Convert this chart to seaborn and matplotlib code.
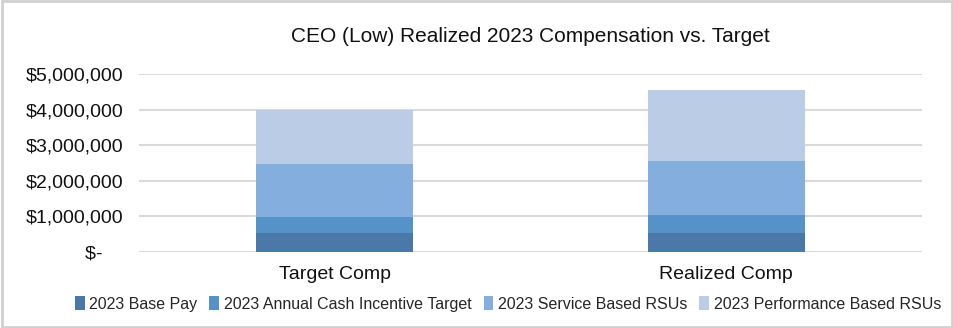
import matplotlib
matplotlib.use("Agg")
import matplotlib.pyplot as plt
import seaborn as sns
import pandas as pd
import numpy as np
from matplotlib.patches import Patch
from matplotlib import font_manager as fm

categories = ["Target Comp", "Realized Comp"]
series_names = ["2023 Base Pay", "2023 Annual Cash Incentive Target",
                "2023 Service Based RSUs", "2023 Performance Based RSUs"]
base_pay = [520000, 525000]
cash_incentive = [470000, 515000]
service_rsus = [1490000, 1510000]
performance_rsus = [1520000, 2010000]
colors = ["#4A78A8", "#5592C8", "#83AEDE", "#BBCCE6"]
yticks = [0, 1000000, 2000000, 3000000, 4000000, 5000000]

sns.set_theme(style="white")
names = {f.name for f in fm.fontManager.ttflist}
fam = "Liberation Sans Narrow" if "Liberation Sans Narrow" in names else "Liberation Sans"
plt.rcParams["font.family"] = [fam, "DejaVu Sans"]

fig = plt.figure(figsize=(9.54, 3.28), dpi=100)
ax = fig.add_axes([139/954, 1 - 252/328, (922 - 139)/954, (252 - 74)/328])

series = [base_pay, cash_incentive, service_rsus, performance_rsus]
cum = np.cumsum(np.array(series), axis=0)
for i in range(len(series) - 1, -1, -1):
    df = pd.DataFrame({"cat": categories, "val": cum[i]})
    sns.barplot(data=df, x="cat", y="val", color=colors[i], width=0.40,
                saturation=1, ax=ax, edgecolor="none", linewidth=0, zorder=3)

ax.set_ylim(0, 5000000)
ax.set_yticks(yticks)
ax.set_yticklabels(["$-    "] + [f"${v:,.0f}" for v in yticks[1:]], fontsize=14, color="#111111")
ax.set_xlabel("")
ax.set_ylabel("")
ax.tick_params(axis="x", labelsize=14, colors="#111111", pad=10, length=0)
ax.tick_params(axis="y", length=0, pad=11)
ax.grid(axis="y", color="#D9D9D9", linewidth=1.5, zorder=0)
ax.set_axisbelow(True)
for s in ax.spines.values():
    s.set_visible(False)
ax.set_xlim(-0.5, 1.5)

fig.text(530/954, 1 - 36/328, "CEO (Low) Realized 2023 Compensation vs. Target",
         ha="center", va="center", fontsize=15, color="#111111")

handles = [Patch(facecolor=c, edgecolor="none") for c in colors]
fig.legend(handles, series_names, loc="center", bbox_to_anchor=(508/954, 1 - 304/328),
           ncol=4, frameon=False, fontsize=11.5, handlelength=0.6, handleheight=0.9,
           handletextpad=0.3, columnspacing=0.75)

border = plt.Rectangle((0.002, 0.004), 0.996, 0.992, transform=fig.transFigure,
                       fill=False, edgecolor="#D0D0D0", linewidth=2)
fig.patches.append(border)

fig.savefig("out.png", dpi=100)
